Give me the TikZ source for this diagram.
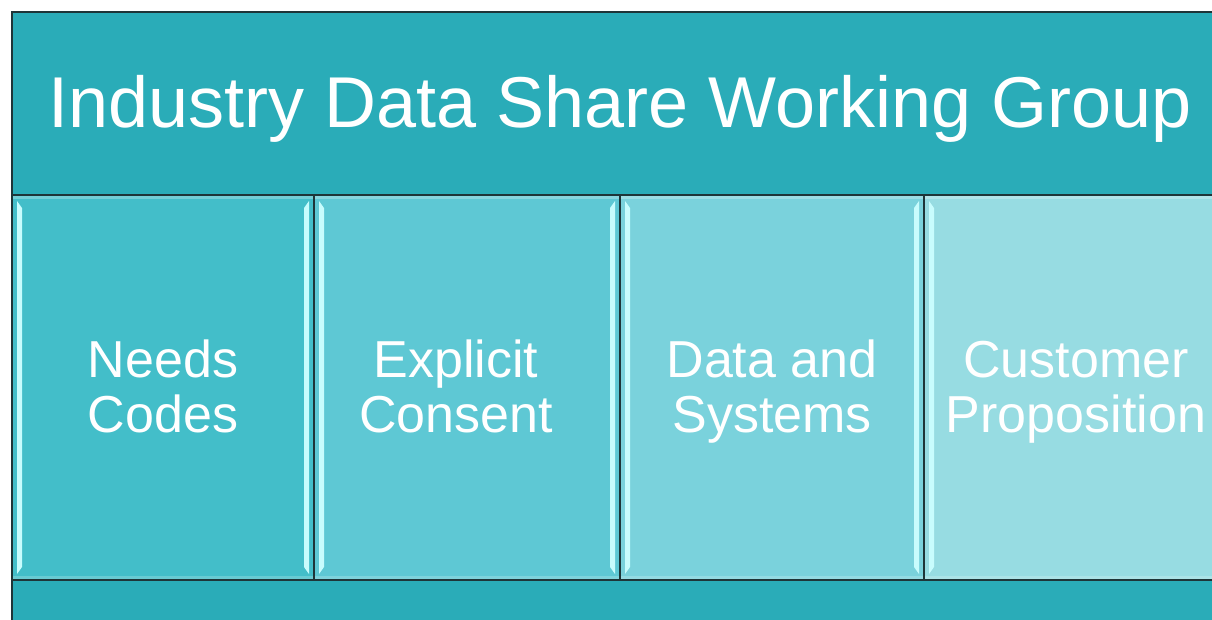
\documentclass[tikz,border=0pt]{standalone}
\usepackage{fontspec}
\setmainfont{Liberation Sans}
\definecolor{band}{HTML}{2AACB8}
\definecolor{boxA}{HTML}{43BEC9}
\definecolor{boxB}{HTML}{5EC8D4}
\definecolor{boxC}{HTML}{7AD2DC}
\definecolor{boxD}{HTML}{97DCE2}
\definecolor{edge}{HTML}{1E3538}
\definecolor{shine}{HTML}{C8FCFD}
\begin{document}
\begin{tikzpicture}[x=1pt,y=-1pt,
  panel/.style={draw=edge, line width=1.3pt, rectangle, inner sep=0pt, outer sep=0pt, anchor=north west},
  boxlabel/.style={text=white, align=center, anchor=base, font=\fontsize{52}{55}\selectfont},
  titletext/.style={text=white, anchor=base, font=\fontsize{72}{80}\selectfont},
  shinestrip/.style={fill=shine, draw=none}
]
\path[use as bounding box] (0,0) rectangle (1212,619);
\clip (0,0) rectangle (1212,619);
\fill[white] (0,0) rectangle (1212,619);

% top band
\node[panel, fill=band, minimum width=1216, minimum height=183] (top) at (12,12) {};
\node[titletext] (title) at (620,127) {Industry Data Share Working Group};

% bottom band
\node[panel, fill=band, minimum width=1216, minimum height=120] (bottom) at (12,580) {};

% four boxes
\node[panel, fill=boxA, minimum width=302, minimum height=385] (b1) at (12,195) {};
\node[panel, fill=boxB, minimum width=306, minimum height=385] (b2) at (314,195) {};
\node[panel, fill=boxC, minimum width=304, minimum height=385] (b3) at (620,195) {};
\node[panel, fill=boxD, minimum width=304, minimum height=385] (b4) at (924,195) {};

% bevel highlights
\foreach \xl/\xr in {12/314, 314/620, 620/924, 924/1228}{
  \fill[shinestrip] (\xl+5,201) -- (\xl+10,208) -- (\xl+10,567) -- (\xl+5,574) -- cycle;
  \fill[shinestrip] (\xr-5,201) -- (\xr-10,208) -- (\xr-10,567) -- (\xr-5,574) -- cycle;
  \fill[white, opacity=0.25] (\xl+1,196) rectangle (\xr-1,199);
  \fill[white, opacity=0.2] (\xl+1,576) rectangle (\xr-1,579);
}

% labels (anchor base = last line's baseline)
\node[boxlabel] (l1) at (163,432) {Needs\\Codes};
\node[boxlabel] (l2) at (456,432) {Explicit\\Consent};
\node[boxlabel] (l3) at (772,432) {Data and\\Systems};
\node[boxlabel] (l4) at (1076,432) {Customer\\Proposition};
\end{tikzpicture}
\end{document}
